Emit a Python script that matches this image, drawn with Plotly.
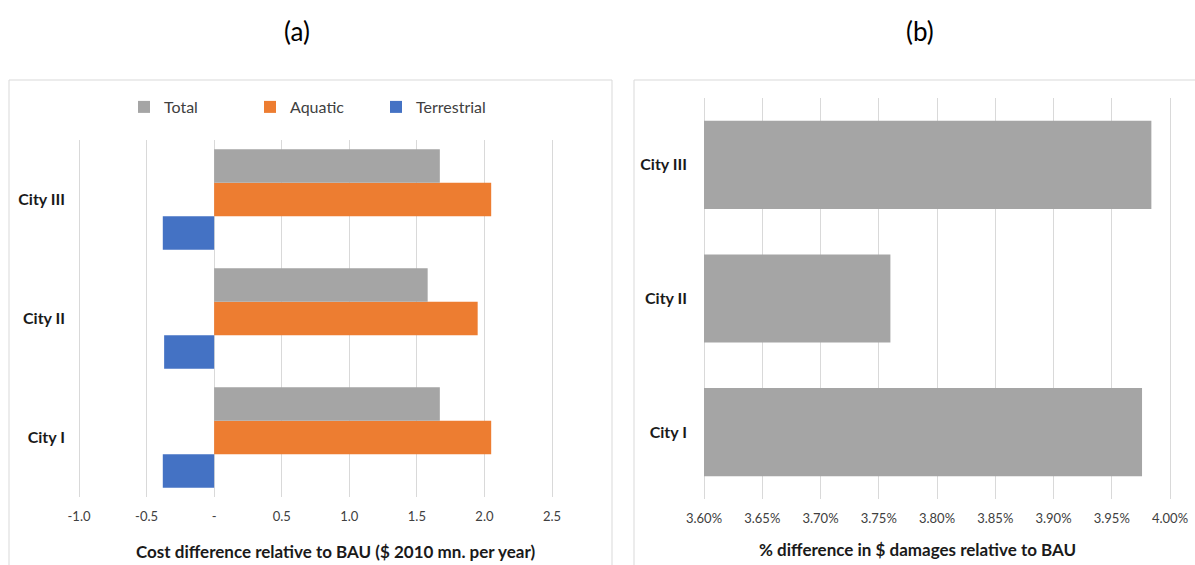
import plotly.graph_objects as go

W, H = 1195, 565

cities = ["City I", "City II", "City III"]
total = [1.67, 1.58, 1.67]
aquatic = [2.05, 1.95, 2.05]
terrestrial = [-0.38, -0.37, -0.38]

pct_diff = [0.03976, 0.03760, 0.03984]
pct_axis_min = 0.036  # Excel axis minimum; bars start here

left_tickvals = [-1.0, -0.5, 0.0, 0.5, 1.0, 1.5, 2.0, 2.5]
left_ticktext = ["-1.0", "-0.5", "-", "0.5", "1.0", "1.5", "2.0", "2.5"]
right_tickvals = [0.036, 0.0365, 0.037, 0.0375, 0.038, 0.0385, 0.039, 0.0395, 0.040]
right_ticktext = ["3.60%", "3.65%", "3.70%", "3.75%", "3.80%", "3.85%", "3.90%", "3.95%", "4.00%"]

C_TOTAL = "#A5A5A5"
C_AQ = "#ED7D31"
C_TER = "#4472C4"
GRID = "#D9D9D9"
FONT = "Lato, Carlito, Calibri, sans-serif"

def px_x(p):
    return p / W

def px_y(p):
    return 1 - p / H

fig = go.Figure()

# Left chart: order so Total is on top within each group
fig.add_trace(go.Bar(y=cities, x=terrestrial, orientation="h", name="Terrestrial",
                     marker=dict(color=C_TER, line=dict(width=0)), xaxis="x", yaxis="y"))
fig.add_trace(go.Bar(y=cities, x=aquatic, orientation="h", name="Aquatic",
                     marker=dict(color=C_AQ, line=dict(width=0)), xaxis="x", yaxis="y"))
fig.add_trace(go.Bar(y=cities, x=total, orientation="h", name="Total",
                     marker=dict(color=C_TOTAL, line=dict(width=0)), xaxis="x", yaxis="y"))

# Right chart: bars drawn from the axis minimum up to each value
fig.add_trace(go.Bar(y=cities, x=[v - pct_axis_min for v in pct_diff], base=pct_axis_min,
                     orientation="h", name="% diff",
                     marker=dict(color=C_TOTAL, line=dict(width=0)), width=0.66,
                     showlegend=False, xaxis="x2", yaxis="y2"))

tickfont = dict(family=FONT, size=13, color="#404040")
catfont = dict(family=FONT, size=16, color="#1a1a1a", weight="bold")

# small padding (in px) so that edge gridlines are not clipped by plotly
PAD = 3
L0, L1 = 79, 552
R0, R1 = 704, 1170
l_ppu = (L1 - L0) / 3.5
r_ppu = (R1 - R0) / 0.004

fig.update_layout(
    width=W, height=H,
    margin=dict(l=0, r=0, t=0, b=0, autoexpand=False),
    paper_bgcolor="white", plot_bgcolor="white",
    barmode="group", bargap=0.155, bargroupgap=0,
    font=dict(family=FONT, color="#404040"),
    xaxis=dict(domain=[px_x(L0 - PAD), px_x(L1 + PAD)],
               range=[-1.0 - PAD / l_ppu, 2.5 + PAD / l_ppu],
               tickvals=left_tickvals, ticktext=left_ticktext,
               showgrid=True, gridcolor=GRID, gridwidth=1,
               zeroline=True, zerolinecolor=GRID, zerolinewidth=1,
               showline=False, ticks="", tickfont=tickfont, anchor="y",
               ticklabelstandoff=10, automargin=False),
    yaxis=dict(domain=[px_y(497), px_y(140)], showgrid=False, zeroline=False,
               showline=False, ticks="", tickfont=catfont, anchor="x",
               ticklabelstandoff=10, categoryorder="array", categoryarray=cities,
               automargin=False),
    xaxis2=dict(domain=[px_x(R0 - PAD), px_x(R1 + PAD)],
                range=[0.036 - PAD / r_ppu, 0.040 + PAD / r_ppu],
                tickvals=right_tickvals, ticktext=right_ticktext,
                showgrid=True, gridcolor=GRID, gridwidth=1,
                zeroline=False, showline=False, ticks="", tickfont=tickfont,
                anchor="y2", ticklabelstandoff=10, automargin=False),
    yaxis2=dict(domain=[px_y(499), px_y(98)], showgrid=False, zeroline=False,
                showline=False, ticks="", tickfont=catfont, anchor="x2",
                ticklabelstandoff=13, categoryorder="array", categoryarray=cities,
                automargin=False),
    legend=dict(orientation="h", traceorder="reversed",
                x=px_x(124), y=px_y(107), xanchor="left", yanchor="middle",
                font=dict(family=FONT, size=16, color="#404040"),
                entrywidth=81, entrywidthmode="pixels",
                bgcolor="rgba(0,0,0,0)"),
    showlegend=True,
)

# Panel borders
fig.add_shape(type="rect", xref="paper", yref="paper",
              x0=px_x(9), x1=px_x(612), y0=px_y(566), y1=px_y(80),
              line=dict(color=GRID, width=1), fillcolor="rgba(0,0,0,0)", layer="below")
fig.add_shape(type="rect", xref="paper", yref="paper",
              x0=px_x(634), x1=px_x(1196), y0=px_y(566), y1=px_y(80),
              line=dict(color=GRID, width=1), fillcolor="rgba(0,0,0,0)", layer="below")

# Panel titles and axis titles
ann = dict(xref="paper", yref="paper", showarrow=False, xanchor="center", yanchor="middle")
fig.add_annotation(text="(a)", x=px_x(297), y=px_y(31),
                   font=dict(family=FONT, size=26, color="#000000"), **ann)
fig.add_annotation(text="(b)", x=px_x(920), y=px_y(31),
                   font=dict(family=FONT, size=26, color="#000000"), **ann)
fig.add_annotation(text="<b>Cost difference relative to BAU ($ 2010 mn. per year)</b>",
                   x=px_x(335), y=px_y(551),
                   font=dict(family=FONT, size=17, color="#1a1a1a"), **ann)
fig.add_annotation(text="<b>% difference in $ damages relative to BAU</b>",
                   x=px_x(917), y=px_y(549),
                   font=dict(family=FONT, size=17, color="#1a1a1a"), **ann)

fig.write_html("out.html")
